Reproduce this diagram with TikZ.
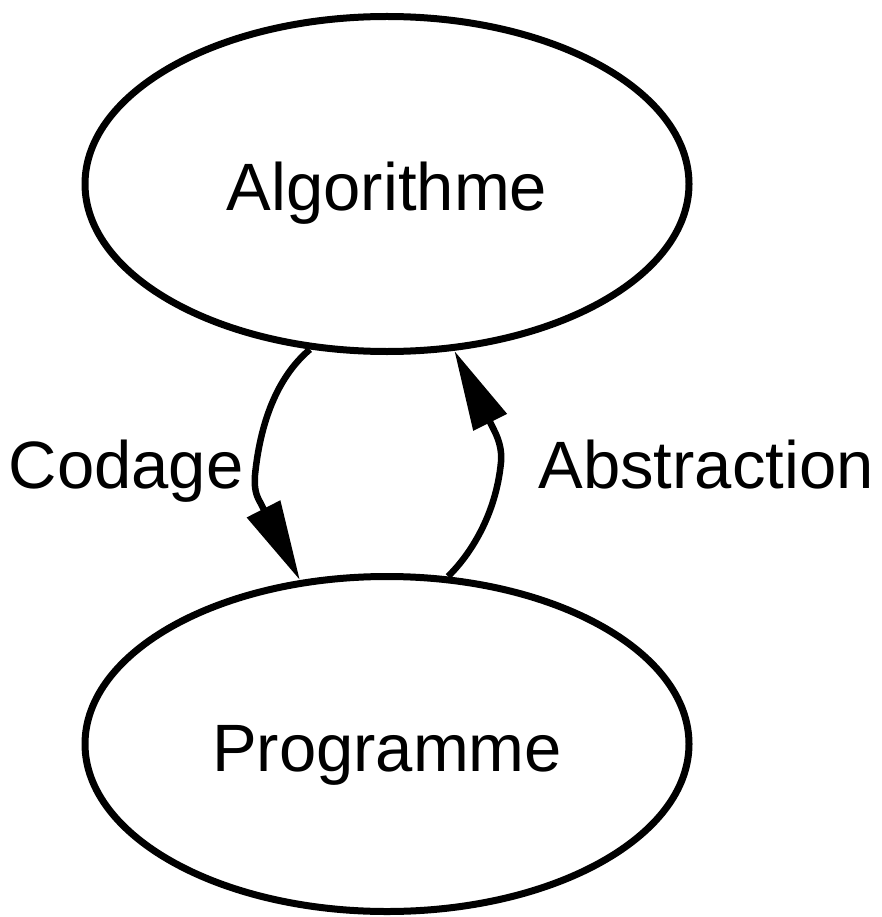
\documentclass[tikz,border=0pt]{standalone}
\usepackage{fontspec}
\setmainfont{Liberation Sans}
\usetikzlibrary{shapes.geometric, arrows.meta}

\begin{document}
\begin{tikzpicture}[x=1pt, y=-1pt,
    state/.style={draw, ellipse, line width=7pt, minimum width=604pt, minimum height=335pt, inner sep=0pt, font=\fontsize{67}{80}\selectfont, text height=54pt, text depth=0pt},
    edge/.style={line width=6.5pt, -{Triangle[length=80pt, width=36pt]}},
    lbl/.style={font=\fontsize{67}{80}\selectfont, anchor=base}]
    \useasboundingbox (0,0) rectangle (881,917);
    % Nodes
    \node[state] (Alg) at (387,184) {Algorithme};
    \node[state] (Prog) at (387,744) {Programme};
    % Edge labels
    \node[lbl] (Cod) at (126,488) {Codage};
    \node[lbl] (Abs) at (706,488) {Abstraction};
    % Edges
    \draw[edge] (Alg.245) .. controls (276,378) and (260,425) .. (255,475) .. controls (254,488) and (256,495) .. (260,502) -- (Prog.118);
    \draw[edge] (Prog.70) .. controls (470,555) and (496,515) .. (501,462) .. controls (502,450) and (499,440) .. (494,430) -- (Alg.292);
\end{tikzpicture}
\end{document}
